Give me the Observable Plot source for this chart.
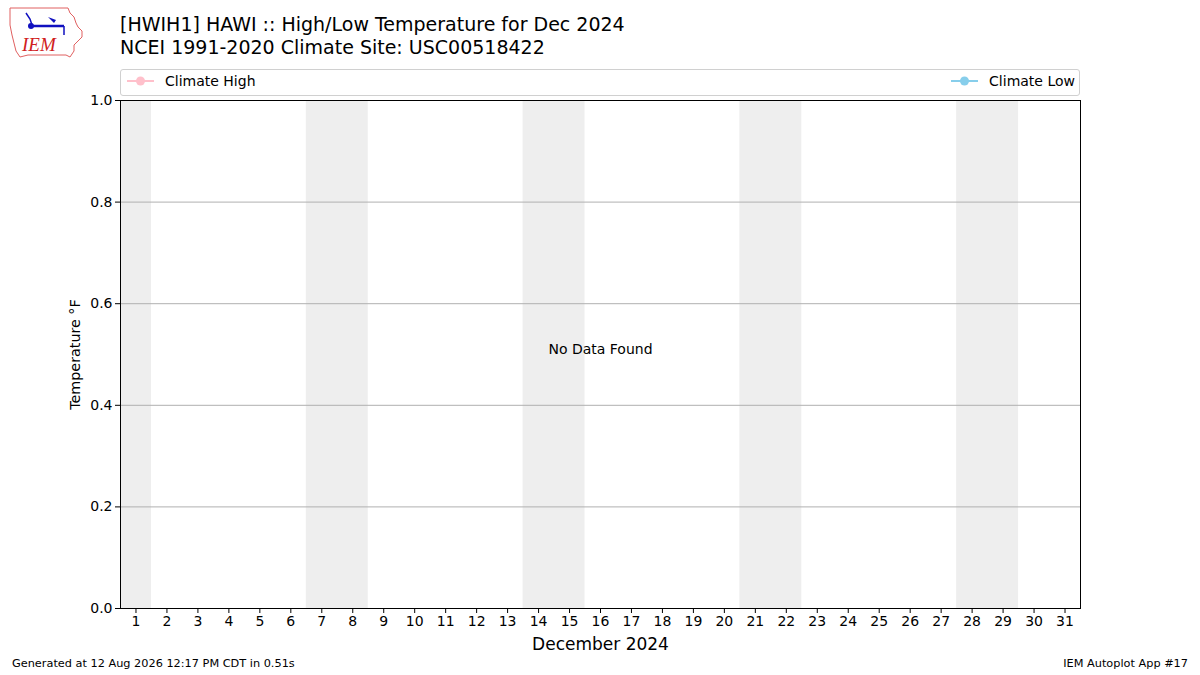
<!DOCTYPE html>
<html>
<head>
<meta charset="utf-8">
<script src="https://cdn.jsdelivr.net/npm/d3@7"></script>
<script src="https://cdn.jsdelivr.net/npm/@observablehq/plot@0.6"></script>
<style>
  html, body { margin: 0; padding: 0; background: #fff; }
  body { width: 1200px; height: 675px; position: relative; overflow: hidden; font-family: "DejaVu Sans", sans-serif; color: #000; }
  .abs { position: absolute; white-space: nowrap; }
  #chart { position: absolute; left: 0; top: 0; }
  .title { font-size: 19px; left: 120px; line-height: 23px; }
  .legend { left: 120px; top: 69px; width: 958px; height: 25px; border: 1px solid #d0d0d0; border-radius: 3px; box-sizing: content-box; }
  .legtext { font-size: 14px; }
  .footer { font-size: 11.3px; }
</style>
</head>
<body>
<script>
const titleLines = ["[HWIH1] HAWI :: High/Low Temperature for Dec 2024", "NCEI 1991-2020 Climate Site: USC00518422"];
const days = d3.range(1, 32);
const yTicks = [0, 0.2, 0.4, 0.6, 0.8, 1.0];
const gridTicks = [0.2, 0.4, 0.6, 0.8];
const weekendStarts = [1, 7, 14, 21, 28];
const weekendEnds = [1, 8, 15, 22, 29];
const legendNames = ["Climate High", "Climate Low"];
const legendColors = ["pink", "skyblue"];
const xLabel = "December 2024";
const yLabel = "Temperature °F";
const noDataText = "No Data Found";
const footerLeft = "Generated at 12 Aug 2026 12:17 PM CDT in 0.51s";
const footerRight = "IEM Autoplot App #17";

const bands = weekendStarts.map((s, i) => ({start: s - 0.5, end: weekendEnds[i] + 0.5}));

const chart = Plot.plot({
  width: 1200,
  height: 675,
  marginTop: 100,
  marginBottom: 67,
  marginLeft: 120,
  marginRight: 120,
  style: {fontFamily: "DejaVu Sans, sans-serif", fontSize: "14px", color: "#000", background: "transparent"},
  x: {domain: [0.5, 31.5]},
  y: {domain: [0, 1]},
  marks: [
    Plot.rect(bands, {x1: "start", x2: "end", y1: 0, y2: 1, fill: "#eeeeee"}),
    Plot.ruleY(gridTicks, {stroke: "#b0b0b0", strokeWidth: 1}),
    Plot.frame({stroke: "#000", strokeWidth: 1}),
    Plot.axisX(days, {tickSize: 5, tickPadding: 3, tickFormat: d => String(d), label: null, fontSize: 14, stroke: "#000"}),
    Plot.axisY(yTicks, {tickSize: 5, tickPadding: 3, tickFormat: d3.format(".1f"), label: null, fontSize: 14, stroke: "#000"}),
    Plot.text([xLabel], {frameAnchor: "bottom", dy: 36, fontSize: 17, lineAnchor: "middle"}),
    Plot.text([yLabel], {frameAnchor: "left", dx: -45, rotate: -90, fontSize: 14.3, textAnchor: "middle", lineAnchor: "middle"}),
    Plot.text([{x: 16, y: 0.5}], {x: "x", y: "y", text: () => noDataText, fontSize: 14, textAnchor: "middle", lineAnchor: "bottom", dy: -1})
  ]
});
chart.id = "chart";
document.body.appendChild(chart);

// Titles
titleLines.forEach((t, i) => {
  const d = document.createElement("div");
  d.className = "abs title";
  d.style.top = (13 + i * 23) + "px";
  d.textContent = t;
  document.body.appendChild(d);
});

// Legend
const leg = document.createElement("div");
leg.className = "abs legend";
document.body.appendChild(leg);
legendNames.forEach((name, i) => {
  const item = document.createElement("div");
  item.className = "abs";
  item.style.top = "-2px";
  item.style.height = "25px";
  item.style.display = "flex";
  item.style.alignItems = "center";
  if (i === 0) item.style.left = "6px"; else item.style.right = "4px";
  const sw = d3.create("svg").attr("width", 27).attr("height", 12);
  sw.append("line").attr("x1", 0).attr("x2", 27).attr("y1", 6).attr("y2", 6).attr("stroke", legendColors[i]).attr("stroke-width", 2);
  sw.append("circle").attr("cx", 13.5).attr("cy", 6).attr("r", 4.5).attr("fill", legendColors[i]);
  item.appendChild(sw.node());
  const tx = document.createElement("span");
  tx.className = "legtext";
  tx.style.marginLeft = "11px";
  tx.textContent = name;
  item.appendChild(tx);
  leg.appendChild(item);
});

// Footer
const fl = document.createElement("div");
fl.className = "abs footer";
fl.style.left = "12px"; fl.style.top = "657px";
fl.textContent = footerLeft;
document.body.appendChild(fl);
const fr = document.createElement("div");
fr.className = "abs footer";
fr.style.right = "12px"; fr.style.top = "657px";
fr.textContent = footerRight;
document.body.appendChild(fr);

// Logo
const logo = d3.create("svg").attr("width", 80).attr("height", 60).style("position", "absolute").style("left", "6px").style("top", "5px");
logo.append("path")
  .attr("d", "M4,3 L62,3 L64,8 L68,12 L70,18 L72,22 L76,26 L76,32 L72,36 L68,40 L68,46 L64,52 L60,50 L22,50 L14,52 L10,46 L8,38 L6,30 L4,20 Z")
  .attr("fill", "none").attr("stroke", "#e06060").attr("stroke-width", 1);
logo.append("line").attr("x1", 24).attr("x2", 58).attr("y1", 21).attr("y2", 21).attr("stroke", "#1010c0").attr("stroke-width", 2.5);
logo.append("circle").attr("cx", 25).attr("cy", 21).attr("r", 3).attr("fill", "#1010c0");
logo.append("path").attr("d", "M42,12 L50,15 L48,18 Z").attr("fill", "#1010c0");
logo.append("path").attr("d", "M20,8 L24,14 L26,20 M58,21 L58,30").attr("stroke", "#1010c0").attr("stroke-width", 1.5).attr("fill", "none");
logo.append("text").attr("x", 16).attr("y", 46).attr("fill", "#d02020").attr("font-family", "Liberation Serif, serif").attr("font-style", "italic").attr("font-size", 19).text("IEM");
document.body.appendChild(logo.node());
</script>
</body>
</html>
